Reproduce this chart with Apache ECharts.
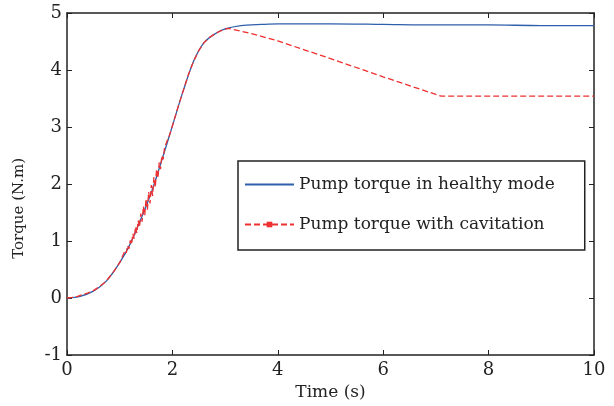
<!DOCTYPE html>
<html>
<head>
<meta charset="utf-8">
<script src="https://cdn.jsdelivr.net/npm/echarts@6/dist/echarts.min.js"></script>
<style>
  html, body { margin: 0; padding: 0; background: #fff; }
  #chart { width: 614px; height: 406px; }
</style>
</head>
<body>
<div id="chart"></div>
<script>
// data
const healthyTime = [0, 0.25, 0.5, 0.75, 1.0, 1.2, 1.4, 1.6, 1.8, 2.0, 2.2, 2.4, 2.6, 2.8, 3.0, 3.3, 3.7, 4.0, 5.0, 6.0, 7.0, 8.0, 9.0, 10.0];
const healthyTorque = [0, 0.03, 0.12, 0.3, 0.62, 0.95, 1.38, 1.85, 2.42, 3.02, 3.62, 4.15, 4.48, 4.63, 4.72, 4.78, 4.80, 4.81, 4.81, 4.80, 4.79, 4.79, 4.78, 4.78];

// cavitation run, with the jitter band seen between 1.1 s and 1.95 s
const cavTime = [0, 0.1, 0.2, 0.3, 0.4, 0.5, 0.6, 0.7, 0.8, 0.9, 1.0,
  1.100, 1.125, 1.150, 1.175, 1.200, 1.225, 1.250, 1.275, 1.300, 1.325, 1.350, 1.375,
  1.400, 1.425, 1.450, 1.475, 1.500, 1.525, 1.550, 1.575, 1.600, 1.625, 1.650, 1.675,
  1.700, 1.725, 1.750, 1.775, 1.800, 1.825, 1.850, 1.875, 1.900, 1.925, 1.950,
  2.0, 2.1, 2.2, 2.3, 2.4, 2.5, 2.6, 2.7, 2.8, 2.9, 3.06, 3.5, 4.0, 5.0, 6.0, 7.1, 8.0, 9.0, 10.0];
const cavTorque = [0, 0.01, 0.03, 0.06, 0.09, 0.13, 0.19, 0.26, 0.36, 0.48, 0.62,
  0.83, 0.79, 0.92, 0.86, 1.01, 0.94, 1.13, 1.04, 1.25, 1.14, 1.36, 1.24,
  1.48, 1.34, 1.61, 1.45, 1.74, 1.55, 1.86, 1.66, 1.98, 1.79, 2.12, 1.94,
  2.26, 2.10, 2.38, 2.26, 2.50, 2.43, 2.63, 2.60, 2.76, 2.77, 2.87,
  3.02, 3.33, 3.62, 3.91, 4.15, 4.34, 4.48, 4.57, 4.63, 4.68, 4.73, 4.64, 4.51, 4.20, 3.88, 3.54, 3.54, 3.54, 3.54];

const seriesNames = ['Pump torque in healthy mode', 'Pump torque with cavitation'];

const font = 'DejaVu Serif';
const chart = echarts.init(document.getElementById('chart'));

const pairs = (xs, ys) => xs.map((x, i) => [x, ys[i]]);

const option = {
  animation: false,
  backgroundColor: '#fff',
  grid: { left: 67, right: 20, top: 13, bottom: 51 },
  xAxis: [{
    type: 'value', min: 0, max: 10, interval: 2,
    name: 'Time (s)', nameLocation: 'middle', nameGap: 15,
    nameTextStyle: { fontFamily: font, fontSize: 17, color: '#222' },
    axisLine: { onZero: false, lineStyle: { color: '#222', width: 1.5 } },
    axisTick: { inside: true, length: 5, lineStyle: { color: '#222' } },
    axisLabel: { fontFamily: font, fontSize: 18, color: '#222', margin: 6 },
    splitLine: { show: false }
  }, {
    type: 'value', min: 0, max: 10, interval: 2, position: 'top',
    axisLine: { onZero: false, lineStyle: { color: '#222', width: 1.5 } },
    axisTick: { inside: true, length: 5, lineStyle: { color: '#222' } },
    axisLabel: { show: false },
    splitLine: { show: false }
  }],
  yAxis: [{
    type: 'value', min: -1, max: 5, interval: 1,
    axisLine: { show: true, onZero: false, lineStyle: { color: '#222', width: 1.5 } },
    axisTick: { show: true, inside: true, length: 5, lineStyle: { color: '#222' } },
    axisLabel: { fontFamily: font, fontSize: 18, color: '#222', margin: 5 },
    splitLine: { show: false }
  }, {
    type: 'value', min: -1, max: 5, interval: 1, position: 'right',
    axisLine: { show: true, onZero: false, lineStyle: { color: '#222', width: 1.5 } },
    axisTick: { show: true, inside: true, length: 5, lineStyle: { color: '#222' } },
    axisLabel: { show: false },
    splitLine: { show: false }
  }],
  legend: {
    orient: 'vertical',
    left: 238, top: 161,
    padding: [15, 30, 17, 6],
    itemWidth: 49, itemHeight: 7, itemGap: 23,
    borderColor: '#222', borderWidth: 1.5, borderRadius: 0,
    textStyle: { fontFamily: font, fontSize: 17, color: '#222' },
    data: [
      { name: seriesNames[0], itemStyle: { opacity: 0 } },
      { name: seriesNames[1] }
    ]
  },
  graphic: [{
    type: 'text', left: 12, top: 158, rotation: Math.PI / 2,
    style: { text: 'Torque (N.m)', font: '15px "DejaVu Serif"', fill: '#222' }
  }],
  series: [{
    name: seriesNames[0], type: 'line',
    data: pairs(healthyTime, healthyTorque),
    symbol: 'none', smooth: 0.3,
    lineStyle: { color: '#2e5faa', width: 1.3 },
    itemStyle: { color: '#2e5faa' }
  }, {
    name: seriesNames[1], type: 'line',
    data: pairs(cavTime, cavTorque),
    symbol: 'rect', symbolSize: 4, showSymbol: false,
    lineStyle: { color: '#ee3030', width: 1.3, type: [6, 3] },
    itemStyle: { color: '#ee3030' }
  }]
};
chart.setOption(option);
</script>
</body>
</html>
